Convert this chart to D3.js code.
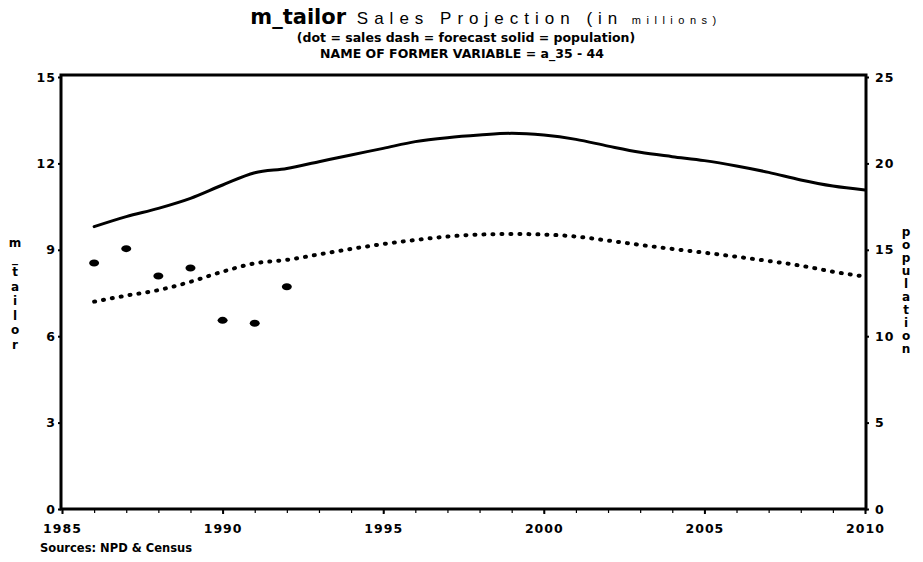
<!DOCTYPE html>
<html>
<head>
<meta charset="utf-8">
<script src="https://cdn.jsdelivr.net/npm/d3@7"></script>
<style>
  body { margin: 0; background: #fff; }
  svg { display: block; }
  text { fill: #000; }
</style>
</head>
<body>
<svg id="chart" width="923" height="562"></svg>
<script>
// ---- data ----
const years = [1986,1987,1988,1989,1990,1991,1992,1993,1994,1995,1996,1997,1998,1999,2000,2001,2002,2003,2004,2005,2006,2007,2008,2009,2010];
const salesYears = [1986,1987,1988,1989,1990,1991,1992];
const sales = [8.54, 9.04, 8.09, 8.37, 6.55, 6.45, 7.72];
const forecast = [7.20, 7.41, 7.60, 7.89, 8.24, 8.53, 8.65, 8.84, 9.03, 9.20, 9.34, 9.46, 9.53, 9.55, 9.53, 9.46, 9.32, 9.17, 9.03, 8.90, 8.76, 8.61, 8.45, 8.24, 8.07];
const population = [16.34, 16.92, 17.40, 17.98, 18.75, 19.46, 19.71, 20.10, 20.49, 20.87, 21.26, 21.49, 21.64, 21.74, 21.64, 21.39, 21.00, 20.64, 20.39, 20.16, 19.85, 19.48, 19.04, 18.69, 18.46];
const xTicks = [1985, 1990, 1995, 2000, 2005, 2010];
const leftTicks = [0, 3, 6, 9, 12, 15];
const rightTicks = [0, 5, 10, 15, 20, 25];
const leftLabel = "m_tailor";
const rightLabel = "population";

const svg = d3.select("#chart");
const FONT = "'DejaVu Sans', sans-serif";

const x = d3.scaleLinear().domain([1985, 2010]).range([62, 865]);
const yL = d3.scaleLinear().domain([0, 15]).range([509, 77]);
const yR = d3.scaleLinear().domain([0, 25]).range([509, 77]);

// ---- title ----
const t1 = svg.append("text").attr("x", 486).attr("y", 24).attr("text-anchor", "middle");
t1.append("tspan").text("m_tailor").attr("font-family", FONT).attr("font-weight", "bold").attr("font-size", 21);
t1.append("tspan").text(" Sales Projection (in").attr("font-family", "'Liberation Sans', sans-serif")
  .attr("font-size", 17).attr("letter-spacing", 6);
t1.append("tspan").text(" millions)").attr("font-family", "'Liberation Sans', sans-serif")
  .attr("font-size", 11).attr("letter-spacing", 5.5);

svg.append("text").attr("x", 466).attr("y", 42).attr("text-anchor", "middle")
  .attr("font-family", FONT).attr("font-weight", "bold").attr("font-size", 12.5)
  .text("(dot = sales dash = forecast solid = population)");
svg.append("text").attr("x", 462).attr("y", 58).attr("text-anchor", "middle")
  .attr("font-family", FONT).attr("font-weight", "bold").attr("font-size", 12.5)
  .text("NAME OF FORMER VARIABLE = a_35 - 44");

// ---- axes ----
function styleAxis(g) {
  g.select(".domain").remove();
  g.selectAll("line").attr("stroke", "#000").attr("stroke-width", 2);
  g.selectAll("text").attr("font-family", FONT).attr("font-weight", "bold").attr("font-size", 12.5)
    .attr("letter-spacing", 1).attr("fill", "#000");
}

svg.append("g").attr("transform", "translate(61,0)")
  .call(d3.axisLeft(yL).tickValues(leftTicks).tickSize(3).tickPadding(2).tickFormat(d3.format("d")))
  .call(styleAxis);

svg.append("g").attr("transform", "translate(866,0)")
  .call(d3.axisRight(yR).tickValues(rightTicks).tickSize(3).tickPadding(6).tickFormat(d3.format("d")))
  .call(styleAxis);

// minor year ticks on bottom
svg.append("g").attr("transform", "translate(0,509)")
  .call(d3.axisBottom(x).tickValues(d3.range(1985, 2011)).tickSize(4).tickFormat(""))
  .call(g => { g.select(".domain").remove(); g.selectAll("line").attr("stroke", "#000").attr("stroke-width", 1.2); });

svg.append("g").attr("transform", "translate(0,509)")
  .call(d3.axisBottom(x).tickValues(xTicks).tickSize(5).tickPadding(10).tickFormat(d3.format("d")))
  .call(styleAxis);

// frame
svg.append("rect")
  .attr("x", x(1985) - 1).attr("y", yL(15) - 2)
  .attr("width", x(2010) - x(1985) + 2).attr("height", yL(0) - yL(15) + 2)
  .attr("fill", "none").attr("stroke", "#000").attr("stroke-width", 3);

// ---- stacked axis labels ----
svg.append("g").selectAll("text").data(leftLabel.split("")).join("text")
  .attr("x", 15).attr("y", (d, i) => 247 + i * 14.5)
  .attr("text-anchor", "middle")
  .attr("font-family", FONT).attr("font-weight", "bold").attr("font-size", 12)
  .text(d => d);

svg.append("g").selectAll("text").data(rightLabel.split("")).join("text")
  .attr("x", 906).attr("y", (d, i) => 236 + i * 13)
  .attr("text-anchor", "middle")
  .attr("font-family", FONT).attr("font-weight", "bold").attr("font-size", 12)
  .text(d => d);

// ---- lines ----
svg.append("path")
  .datum(years.map((yr, i) => [yr, population[i]]))
  .attr("fill", "none").attr("stroke", "#000").attr("stroke-width", 3).attr("stroke-linecap", "round")
  .attr("d", d3.line().x(d => x(d[0])).y(d => yR(d[1])).curve(d3.curveMonotoneX));

svg.append("path")
  .datum(years.map((yr, i) => [yr, forecast[i]]))
  .attr("fill", "none").attr("stroke", "#000").attr("stroke-width", 4).attr("stroke-linecap", "round")
  .attr("stroke-dasharray", "1 8")
  .attr("d", d3.line().x(d => x(d[0])).y(d => yL(d[1])).curve(d3.curveMonotoneX));

// ---- sales dots ----
svg.append("g").selectAll("ellipse").data(salesYears.map((yr, i) => [yr, sales[i]])).join("ellipse")
  .attr("cx", d => x(d[0])).attr("cy", d => yL(d[1]))
  .attr("rx", 5).attr("ry", 3.5).attr("fill", "#000");

// ---- source ----
svg.append("text").attr("x", 40).attr("y", 552)
  .attr("font-family", FONT).attr("font-weight", "bold").attr("font-size", 11.5)
  .text("Sources: NPD & Census");
</script>
</body>
</html>
